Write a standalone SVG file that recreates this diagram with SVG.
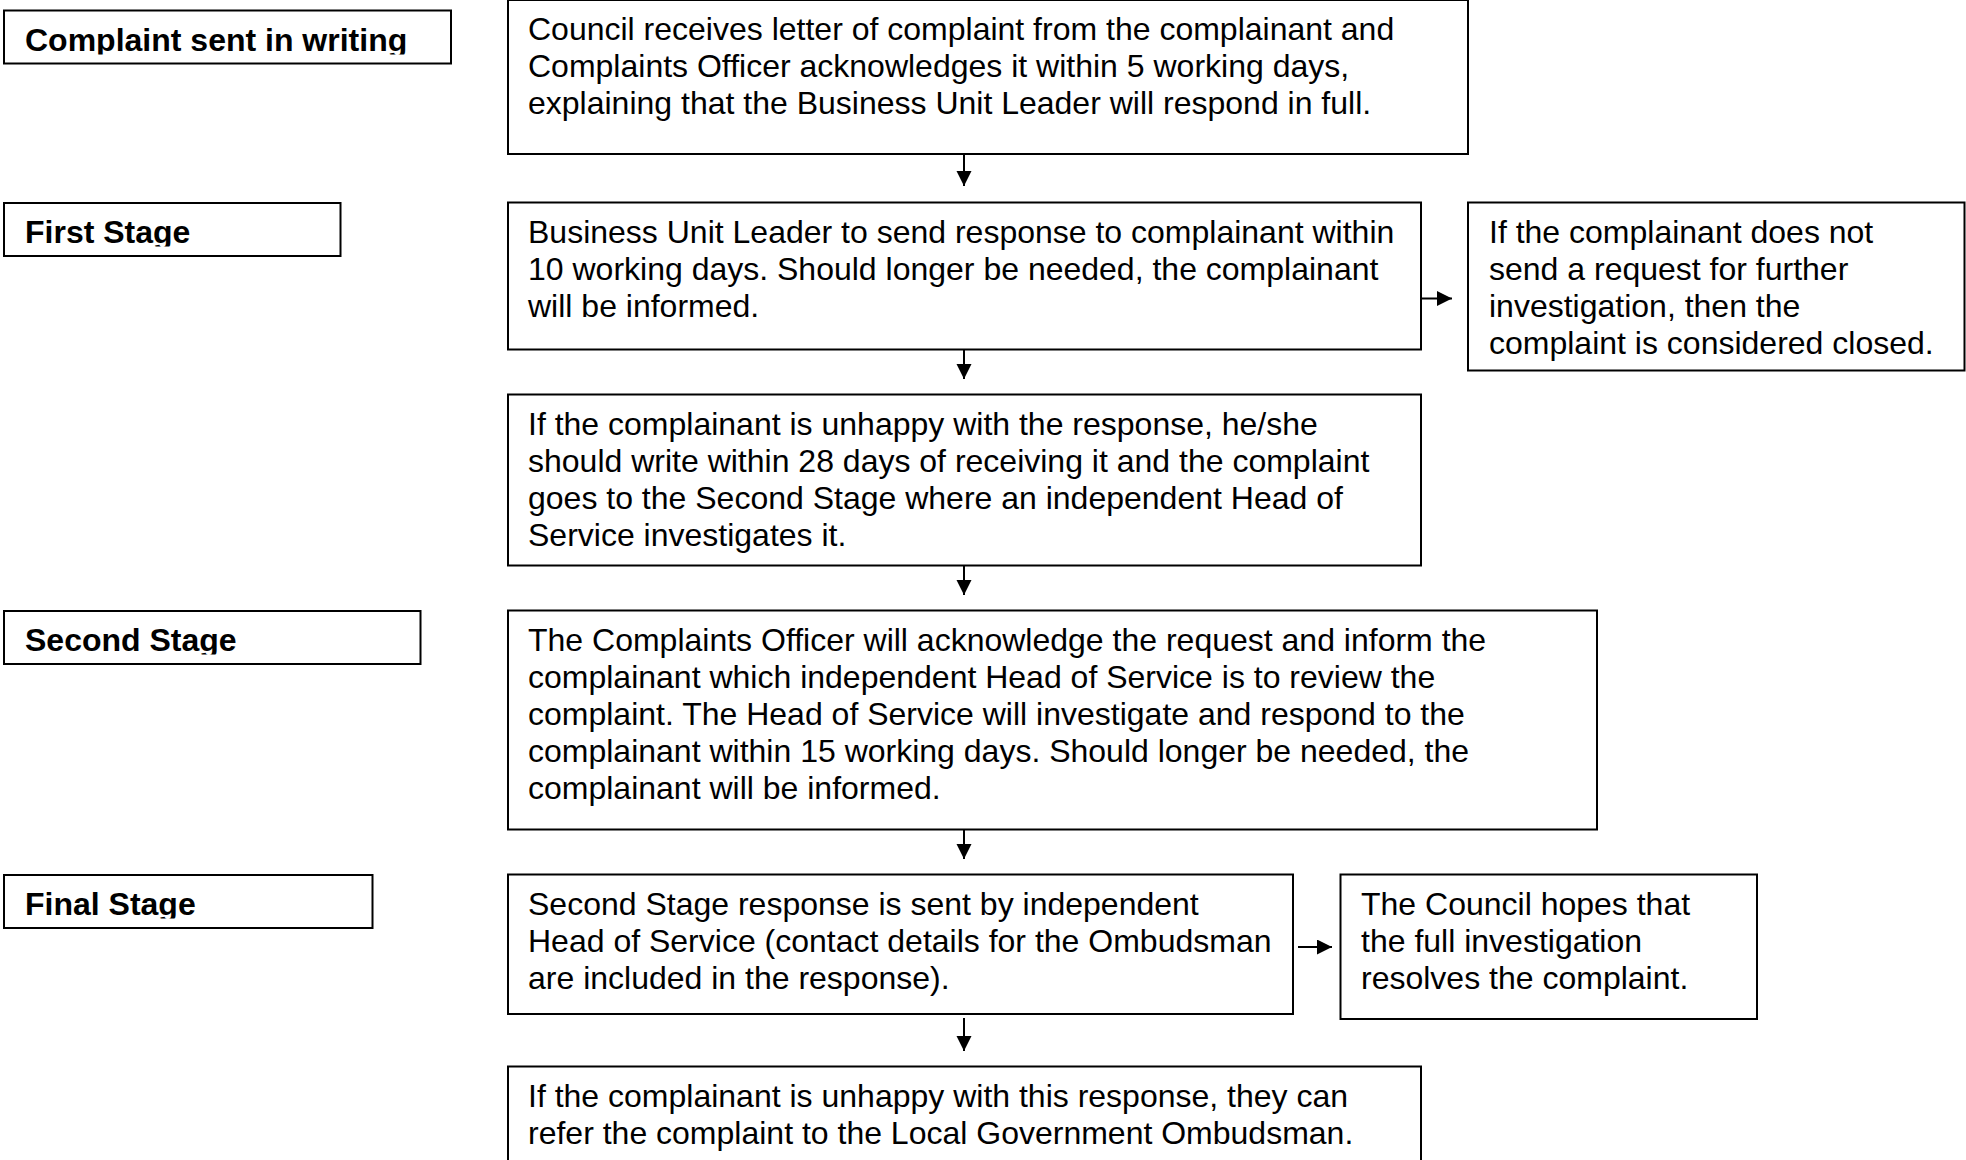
<svg xmlns="http://www.w3.org/2000/svg" width="1966" height="1160" viewBox="0 0 1966 1160">
<style>
.box{fill:#fff;stroke:#000;stroke-width:2}
.lbl{font-family:"Liberation Sans",Arial,sans-serif;font-weight:bold;font-size:32px;fill:#000}
.txt{font-family:"Liberation Sans",Arial,sans-serif;font-size:32px;fill:#000}
.con{stroke:#000;stroke-width:2;fill:none}
</style>
<defs>
<marker id="ah" markerUnits="userSpaceOnUse" markerWidth="16" markerHeight="16" refX="15" refY="7.5" orient="auto">
<path d="M0,0 L15,7.5 L0,15 Z" fill="#000"/>
</marker>
<clipPath id="c1" clipPathUnits="userSpaceOnUse"><rect x="0" y="10" width="460" height="44.5"/></clipPath>
<clipPath id="c2" clipPathUnits="userSpaceOnUse"><rect x="0" y="203" width="460" height="43.5"/></clipPath>
<clipPath id="c3" clipPathUnits="userSpaceOnUse"><rect x="0" y="611" width="460" height="43.5"/></clipPath>
<clipPath id="c4" clipPathUnits="userSpaceOnUse"><rect x="0" y="875" width="460" height="43.5"/></clipPath>
</defs>
<rect width="1966" height="1160" fill="#fff"/>

<g id="label-complaint">
<rect class="box" x="4" y="10.5" width="447" height="53"/>
<text class="lbl" x="25" y="51" clip-path="url(#c1)">Complaint sent in writing</text>
</g>
<g id="label-first">
<rect class="box" x="4" y="203" width="336.5" height="53"/>
<text class="lbl" x="25" y="243" clip-path="url(#c2)">First Stage</text>
</g>
<g id="label-second">
<rect class="box" x="4" y="611" width="416.5" height="53"/>
<text class="lbl" x="25" y="651" clip-path="url(#c3)">Second Stage</text>
</g>
<g id="label-final">
<rect class="box" x="4" y="875" width="368.5" height="53"/>
<text class="lbl" x="25" y="915" clip-path="url(#c4)">Final Stage</text>
</g>

<g id="node-receive">
<rect class="box" x="508" y="0" width="960" height="154"/>
<text class="txt" x="528" y="40">Council receives letter of complaint from the complainant and</text>
<text class="txt" x="528" y="77">Complaints Officer acknowledges it within 5 working days,</text>
<text class="txt" x="528" y="114">explaining that the Business Unit Leader will respond in full.</text>
</g>
<g id="node-first">
<rect class="box" x="508" y="202.5" width="913" height="147"/>
<text class="txt" x="528" y="242.5">Business Unit Leader to send response to complainant within</text>
<text class="txt" x="528" y="279.5">10 working days. Should longer be needed, the complainant</text>
<text class="txt" x="528" y="316.5">will be informed.</text>
</g>
<g id="node-closed">
<rect class="box" x="1468" y="202.5" width="496.5" height="168"/>
<text class="txt" x="1489" y="242.5">If the complainant does not</text>
<text class="txt" x="1489" y="279.5">send a request for further</text>
<text class="txt" x="1489" y="316.5">investigation, then the</text>
<text class="txt" x="1489" y="353.5">complaint is considered closed.</text>
</g>
<g id="node-unhappy">
<rect class="box" x="508" y="394.5" width="913" height="171"/>
<text class="txt" x="528" y="434.5">If the complainant is unhappy with the response, he/she</text>
<text class="txt" x="528" y="471.5">should write within 28 days of receiving it and the complaint</text>
<text class="txt" x="528" y="508.5">goes to the Second Stage where an independent Head of</text>
<text class="txt" x="528" y="545.5">Service investigates it.</text>
</g>
<g id="node-second">
<rect class="box" x="508" y="610.5" width="1089" height="219"/>
<text class="txt" x="528" y="650.5">The Complaints Officer will acknowledge the request and inform the</text>
<text class="txt" x="528" y="687.5">complainant which independent Head of Service is to review the</text>
<text class="txt" x="528" y="724.5">complaint. The Head of Service will investigate and respond to the</text>
<text class="txt" x="528" y="761.5">complainant within 15 working days. Should longer be needed, the</text>
<text class="txt" x="528" y="798.5">complainant will be informed.</text>
</g>
<g id="node-response">
<rect class="box" x="508" y="874.5" width="785" height="139.5"/>
<text class="txt" x="528" y="914.5">Second Stage response is sent by independent</text>
<text class="txt" x="528" y="951.5">Head of Service (contact details for the Ombudsman</text>
<text class="txt" x="528" y="988.5">are included in the response).</text>
</g>
<g id="node-hopes">
<rect class="box" x="1340.5" y="874.5" width="416.5" height="144.5"/>
<text class="txt" x="1361" y="914.5">The Council hopes that</text>
<text class="txt" x="1361" y="951.5">the full investigation</text>
<text class="txt" x="1361" y="988.5">resolves the complaint.</text>
</g>
<g id="node-ombudsman">
<rect class="box" x="508" y="1066.5" width="913" height="120"/>
<text class="txt" x="528" y="1106.5">If the complainant is unhappy with this response, they can</text>
<text class="txt" x="528" y="1143.5">refer the complaint to the Local Government Ombudsman.</text>
</g>

<g id="connectors">
<line class="con" x1="964" y1="154" x2="964" y2="186" marker-end="url(#ah)"/>
<line class="con" x1="964" y1="349.5" x2="964" y2="379" marker-end="url(#ah)"/>
<line class="con" x1="964" y1="565.5" x2="964" y2="595" marker-end="url(#ah)"/>
<line class="con" x1="964" y1="829.5" x2="964" y2="859" marker-end="url(#ah)"/>
<line class="con" x1="964" y1="1018" x2="964" y2="1051" marker-end="url(#ah)"/>
<line class="con" x1="1421" y1="298.5" x2="1452" y2="298.5" marker-end="url(#ah)"/>
<line class="con" x1="1298" y1="947" x2="1332" y2="947" marker-end="url(#ah)"/>
</g>
</svg>
